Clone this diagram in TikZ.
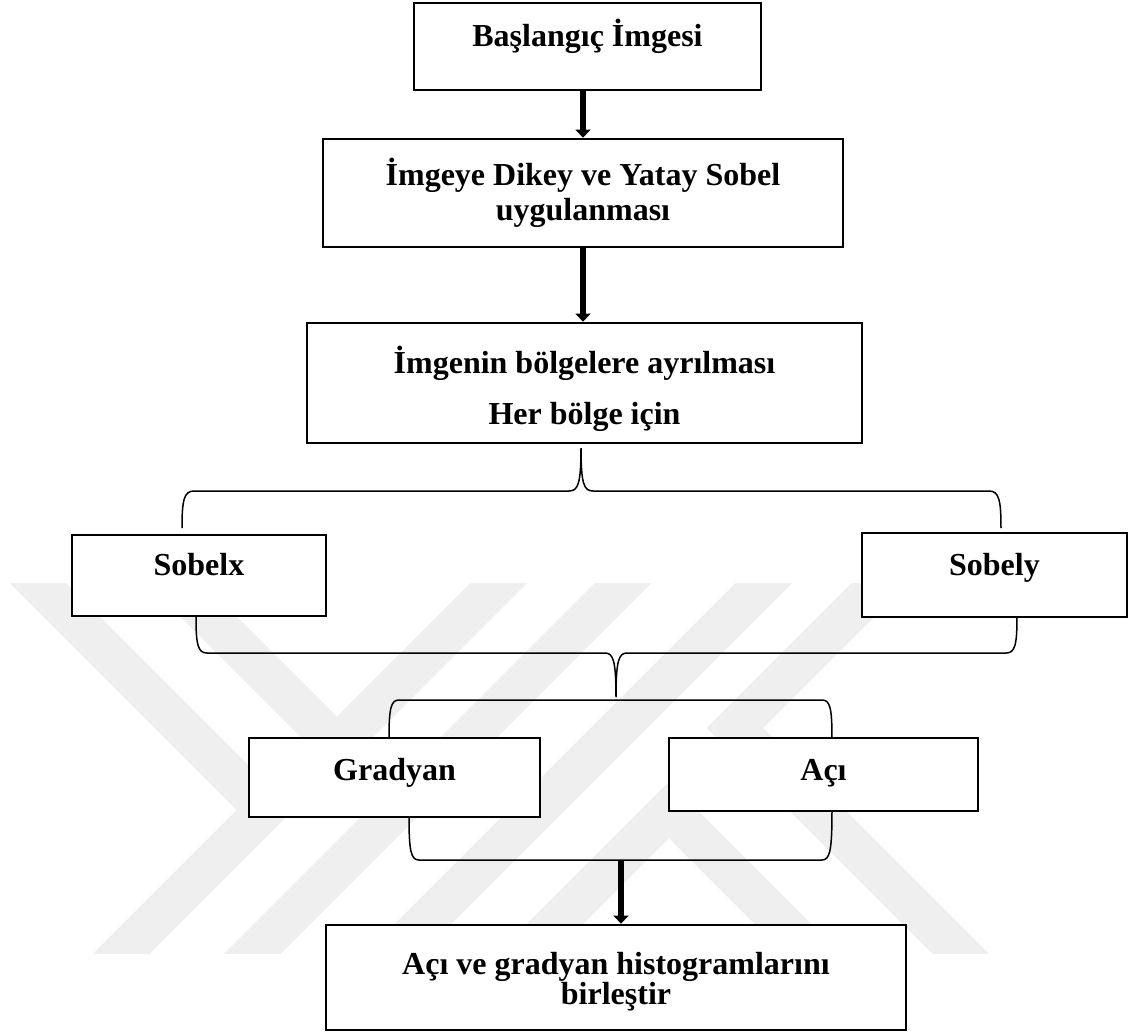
\documentclass[tikz,border=0pt]{standalone}
\usepackage{fontspec}
\setmainfont{Liberation Serif}
\usetikzlibrary{arrows.meta}
\definecolor{wmgray}{RGB}{239,239,239}
\tikzset{box/.style={draw, line width=1.1pt, fill=white, inner sep=0pt, align=center, font=\fontsize{12.8}{14}\selectfont\bfseries},
  oneline/.style={text height=8pt, text depth=8pt},
  flowarrow/.style={line width=2.4pt, -{Triangle[width=6pt,length=3.2pt]}},
  bracepath/.style={line width=0.6pt},
  wmark/.style={draw=wmgray, line width=16pt, line join=miter}}

\begin{document}
\begin{tikzpicture}[x=0.4pt, y=-0.4pt]
  \useasboundingbox (0,0) rectangle (1129,1034);
  % watermark
  \begin{scope}
    \clip (0,583) rectangle (1129,953);
    \draw[wmark] (-2,543) -- (265,810) -- (82,993);
    \draw[wmark] (135,543) -- (337,745) -- (539,543);
    \draw[wmark] (213,993) -- (663,543);
    \draw[wmark] (354,993) -- (804,543);
    \draw[wmark] (920,543) -- (735,728) -- (1000,993);
    \draw[wmark] (486,993) -- (669,810) -- (852,993);
  \end{scope}

  \node[box, oneline, minimum width=138.8pt, minimum height=34.8pt] (start) at (587.5,46.5) {Başlangıç İmgesi};
  \node[box, minimum width=208pt, minimum height=43.2pt] (sobelapp) at (583,193) {İmgeye Dikey ve Yatay Sobel\\uygulanması};
  \node[box, minimum width=222pt, minimum height=48pt] (regions) at (584.5,383) {\rule{0pt}{16pt}İmgenin bölgelere ayrılması\\[6.4pt]Her bölge için};
  \node[box, oneline, minimum width=101.6pt, minimum height=32.4pt] (sobelx) at (199,575.5) {Sobelx};
  \node[box, oneline, minimum width=106pt, minimum height=33.6pt] (sobely) at (994.5,575) {Sobely};
  \node[box, oneline, text height=9pt, text depth=7pt, minimum width=116.4pt, minimum height=31.6pt] (gradyan) at (394.5,777.5) {Gradyan};
  \node[box, oneline, text height=10.2pt, text depth=5.8pt, minimum width=123.6pt, minimum height=29.2pt] (aci) at (823.5,774.5) {Açı};
  \node[box, minimum width=232pt, minimum height=42pt] (merge) at (616,977.5) {\rule{0pt}{12pt}Açı ve gradyan histogramlarını\\[-2pt]birleştir};

  \draw[flowarrow] (start.south -| sobelapp.north) -- (sobelapp.north);
  \draw[flowarrow] (sobelapp.south) -- (sobelapp.south |- regions.north);

  % braces
  \coordinate (b1l) at (182,528);
  \coordinate (b1tip) at (581,448);
  \coordinate (b1r) at (1001,528);
  \draw[bracepath] (b1l) .. controls +(0,-28) and +(-10,0) .. (194,491) -- (569,491)
    .. controls +(9,0) and +(0,36) .. (b1tip) .. controls +(0,36) and +(-9,0) .. (593,491)
    -- (989,491) .. controls +(10,0) and +(0,-28) .. (b1r);

  \coordinate (b2l) at (196,617);
  \coordinate (b2tip) at (616,697);
  \coordinate (b2r) at (1017,617);
  \draw[bracepath] (b2l) .. controls +(0,28) and +(-9,0) .. (207,653) -- (605,653)
    .. controls +(8,0) and +(0,-37) .. (b2tip) .. controls +(0,-37) and +(-8,0) .. (627,653)
    -- (1006,653) .. controls +(9,0) and +(0,28) .. (b2r);

  \coordinate (b3l) at (389,738);
  \coordinate (b3r) at (832,738);
  \draw[bracepath] (b3l) .. controls +(0,-30) and +(-8,0) .. (399,700) -- (822,700)
    .. controls +(8,0) and +(0,-30) .. (b3r);

  \coordinate (b4l) at (409,817);
  \coordinate (b4tip) at (621,860);
  \coordinate (b4r) at (832,811);
  \draw[bracepath] (b4l) .. controls +(0,34) and +(-8,0) .. (419,860) -- (822,860)
    .. controls +(8,0) and +(0,39) .. (b4r);
  \draw[flowarrow] (b4tip) -- (b4tip |- merge.north);
\end{tikzpicture}
\end{document}
